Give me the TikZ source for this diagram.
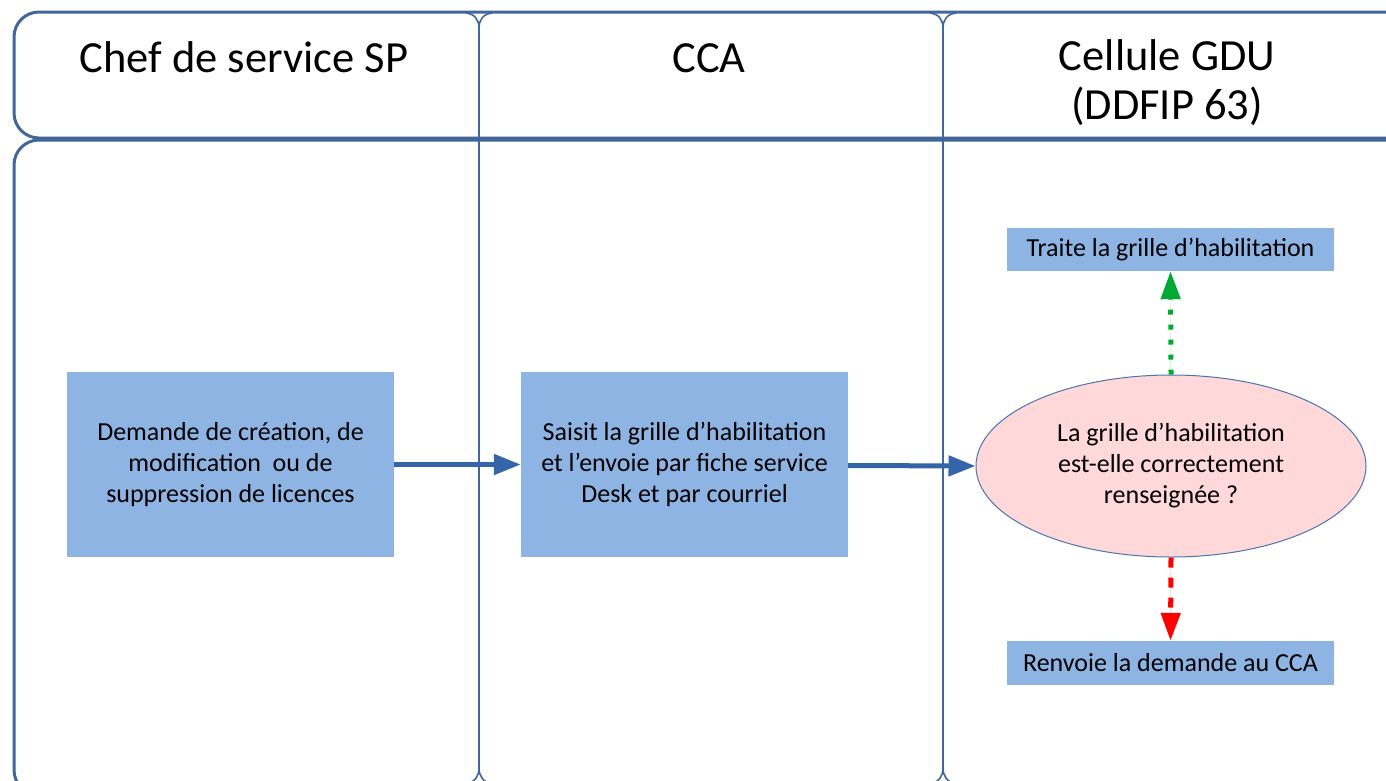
\documentclass[tikz,border=0pt]{standalone}
\usepackage{fontspec}
\setmainfont{Carlito}
\usetikzlibrary{arrows.meta,shapes.geometric}
\definecolor{lane}{HTML}{41669A}
\definecolor{boxfill}{HTML}{8EB4E3}
\definecolor{ellfill}{HTML}{FFD9D9}
\definecolor{ellline}{HTML}{4A74B0}
\definecolor{arrblue}{HTML}{3465A8}
\definecolor{okgreen}{HTML}{00A933}
\definecolor{nored}{HTML}{FF0000}
\tikzset{
  hdr/.style={font=\fontsize{44.5}{49}\selectfont, align=center},
  taskbox/.style={rectangle, fill=boxfill, draw=none, align=center,
    font=\fontsize{26}{31}\selectfont, inner sep=0pt},
  decision/.style={ellipse, fill=ellfill, draw=ellline, line width=1pt,
    minimum width=390pt, minimum height=182pt, align=center, inner sep=0pt,
    font=\fontsize{26}{31}\selectfont},
  flow/.style={draw=arrblue, line width=5pt, -{Triangle[length=27pt,width=20pt]}},
  yesflow/.style={draw=okgreen, line width=5pt, dash pattern=on 5pt off 10pt,
    -{Triangle[length=28pt,width=19pt]}, fill=okgreen},
  noflow/.style={draw=nored, line width=5pt, dash pattern=on 10pt off 10pt,
    -{Triangle[length=28pt,width=19pt]}, fill=nored},
  lanebox/.style={draw=lane, line width=3pt, rounded corners=25pt},
  laneline/.style={draw=lane, line width=1.6pt},
}
\begin{document}
\begin{tikzpicture}[x=1pt,y=-1pt]
\useasboundingbox (0,0) rectangle (1386,780);
% lanes
\draw[lanebox] (1420,12) -- (14,12) -- (14,138) -- (1420,138);
\draw[lanebox] (1420,140) -- (14,140) -- (14,795) -- (1420,795);
\foreach \lx in {479,943}{
  \draw[laneline] (\lx-13,13) .. controls (\lx-4,14) and (\lx,20) .. (\lx,28)
     -- (\lx,768) .. controls (\lx,776) and (\lx-4,782) .. (\lx-13,784);
  \draw[laneline] (\lx+13,13) .. controls (\lx+4,14) and (\lx,20) .. (\lx,28);
  \draw[laneline] (\lx,768) .. controls (\lx,776) and (\lx+4,782) .. (\lx+13,784);
}
% headers
\node[hdr, anchor=base] (h1) at (244,72) {Chef de service SP};
\node[hdr, anchor=base] (h2) at (709,72) {CCA};
\node[hdr, anchor=base] (h3) at (1167,119) {Cellule GDU\\(DDFIP 63)};
% tasks
\node[taskbox, minimum width=327pt, minimum height=185pt] (a) at (230.5,464.5)
  {Demande de création, de\\modification\ \ ou de\\suppression de licences};
\node[taskbox, minimum width=327pt, minimum height=185pt] (b) at (684.5,464.5)
  {Saisit la grille d’habilitation\\et l’envoie par fiche service\\Desk et par courriel};
\node[decision] (c) at (1171,466)
  {La grille d’habilitation\\est-elle correctement\\renseignée ?};
\node[taskbox, minimum width=327pt, minimum height=43pt] (d) at (1170.5,249.5)
  {Traite la grille d’habilitation};
\node[taskbox, minimum width=327pt, minimum height=44pt] (e) at (1170.5,663)
  {Renvoie la demande au CCA};
% connectors
\draw[flow] (a.east) -- (b.west);
\draw[flow] ([yshift=-1pt]b.east) -- (c.west);
\draw[yesflow] (c.north) -- (d.south);
\draw[noflow] (c.south) -- (e.north);
\end{tikzpicture}
\end{document}
